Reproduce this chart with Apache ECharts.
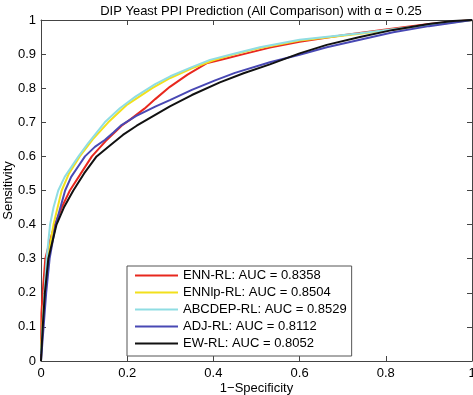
<!DOCTYPE html>
<html>
<head>
<meta charset="utf-8">
<script src="https://cdn.jsdelivr.net/npm/echarts@6/dist/echarts.min.js"></script>
<style>
  html, body { margin: 0; padding: 0; background: #fff; }
  #main { width: 473px; height: 395px; }
</style>
</head>
<body>
<div id="main"></div>
<script>
// ROC points: [1-specificity, sensitivity]
var ennRL = [[0,0],[0.001,0.14],[0.005,0.22],[0.01,0.3],[0.02,0.35],[0.032,0.4],[0.048,0.45],[0.067,0.5],[0.09,0.545],[0.118,0.6],[0.15,0.645],[0.187,0.69],[0.206,0.707],[0.24,0.74],[0.265,0.768],[0.299,0.804],[0.34,0.84],[0.384,0.873],[0.42,0.884],[0.47,0.9],[0.531,0.919],[0.6,0.936],[0.7,0.955],[0.8,0.972],[0.9,0.988],[1,1]];
var ennlpRL = [[0,0.03],[0.004,0.12],[0.009,0.2],[0.016,0.3],[0.029,0.4],[0.048,0.5],[0.065,0.55],[0.09,0.6],[0.12,0.65],[0.156,0.7],[0.2,0.752],[0.258,0.8],[0.3,0.83],[0.35,0.858],[0.4,0.882],[0.45,0.9],[0.508,0.918],[0.6,0.94],[0.74,0.96],[0.85,0.977],[0.95,0.992],[1,1]];
var abcdepRL = [[0,0.02],[0.004,0.1],[0.008,0.2],[0.013,0.3],[0.021,0.4],[0.029,0.45],[0.04,0.5],[0.055,0.54],[0.071,0.57],[0.087,0.6],[0.11,0.64],[0.148,0.7],[0.183,0.741],[0.22,0.776],[0.265,0.812],[0.3,0.835],[0.35,0.862],[0.392,0.883],[0.45,0.902],[0.508,0.92],[0.6,0.942],[0.74,0.961],[0.85,0.978],[0.95,0.992],[1,1]];
var adjRL = [[0,0],[0.006,0.1],[0.012,0.2],[0.02,0.3],[0.034,0.4],[0.056,0.5],[0.07,0.54],[0.087,0.572],[0.102,0.6],[0.125,0.628],[0.148,0.648],[0.168,0.67],[0.185,0.69],[0.22,0.718],[0.265,0.746],[0.299,0.765],[0.35,0.795],[0.404,0.823],[0.45,0.845],[0.531,0.876],[0.6,0.898],[0.663,0.92],[0.74,0.942],[0.817,0.964],[0.9,0.982],[1,1]];
var ewRL = [[0,0],[0.004,0.1],[0.009,0.2],[0.017,0.3],[0.036,0.4],[0.053,0.45],[0.075,0.5],[0.1,0.55],[0.129,0.6],[0.16,0.632],[0.19,0.663],[0.222,0.69],[0.265,0.722],[0.299,0.747],[0.35,0.78],[0.415,0.817],[0.47,0.844],[0.531,0.87],[0.6,0.902],[0.663,0.927],[0.74,0.95],[0.817,0.971],[0.9,0.988],[0.956,0.997],[1,1]];

var names = ['ENN-RL: AUC = 0.8358', 'ENNlp-RL: AUC = 0.8504', 'ABCDEP-RL: AUC = 0.8529', 'ADJ-RL: AUC = 0.8112', 'EW-RL: AUC = 0.8052'];
var colors = ['#e8281e', '#f2e01c', '#8fdde3', '#4848b4', '#111111'];
var curves = [ennRL, ennlpRL, abcdepRL, adjRL, ewRL];

var font = 'Liberation Sans, Arial, sans-serif';
var chart = echarts.init(document.getElementById('main'));

var series = [];
for (var i = 0; i < curves.length; i++) {
    series.push({
        name: names[i],
        type: 'line',
        data: curves[i],
        showSymbol: false,
        symbol: 'none',
        lineStyle: { color: colors[i], width: 2 },
        itemStyle: { color: colors[i] },
        animation: false
    });
}

// box frame: every side gets its own axis, none of them snapped to zero
function frameLine() { return { show: true, onZero: false, lineStyle: { color: '#444', width: 1 } }; }
function tick() { return { show: true, inside: true, length: 5, lineStyle: { color: '#444' } }; }

option = {
    animation: false,
    title: {
        text: 'DIP Yeast PPI Prediction (All Comparison) with \u03b1 = 0.25',
        left: 256,
        textAlign: 'center',
        top: 0,
        textStyle: { fontFamily: font, fontSize: 13, fontWeight: 'normal', color: '#000' }
    },
    legend: {
        data: names,
        orient: 'vertical',
        left: 127,
        top: 266,
        padding: [3, 5, 6, 8],
        itemGap: 4,
        itemWidth: 43,
        itemHeight: 2,
        icon: 'rect',
        backgroundColor: '#fff',
        borderColor: '#555',
        borderWidth: 1,
        textStyle: { fontFamily: font, fontSize: 13, color: '#000' }
    },
    grid: { left: 41, right: 1, top: 20, bottom: 34, outerBoundsMode: 'none', containLabel: false },
    xAxis: [{
        type: 'value', min: 0, max: 1, interval: 0.2, position: 'bottom',
        name: '1\u2212Specificity', nameLocation: 'middle', nameGap: 21, nameMoveOverlap: false,
        nameTextStyle: { fontFamily: font, fontSize: 13, color: '#000' },
        axisLine: frameLine(),
        axisTick: tick(),
        axisLabel: { fontFamily: font, fontSize: 13, color: '#000', margin: 6 },
        splitLine: { show: false }
    }, {
        type: 'value', min: 0, max: 1, interval: 0.2, position: 'top',
        axisLine: frameLine(),
        axisTick: tick(),
        axisLabel: { show: false },
        splitLine: { show: false }
    }],
    yAxis: [{
        type: 'value', min: 0, max: 1, interval: 0.1, position: 'left',
        name: 'Sensitivity', nameLocation: 'middle', nameGap: 26, nameMoveOverlap: false,
        nameTextStyle: { fontFamily: font, fontSize: 13, color: '#000' },
        axisLine: frameLine(),
        axisTick: tick(),
        axisLabel: { fontFamily: font, fontSize: 13, color: '#000', margin: 5 },
        splitLine: { show: false }
    }, {
        type: 'value', min: 0, max: 1, interval: 0.1, position: 'right',
        axisLine: frameLine(),
        axisTick: tick(),
        axisLabel: { show: false },
        splitLine: { show: false }
    }],
    series: series
};

chart.setOption(option);
</script>
</body>
</html>
